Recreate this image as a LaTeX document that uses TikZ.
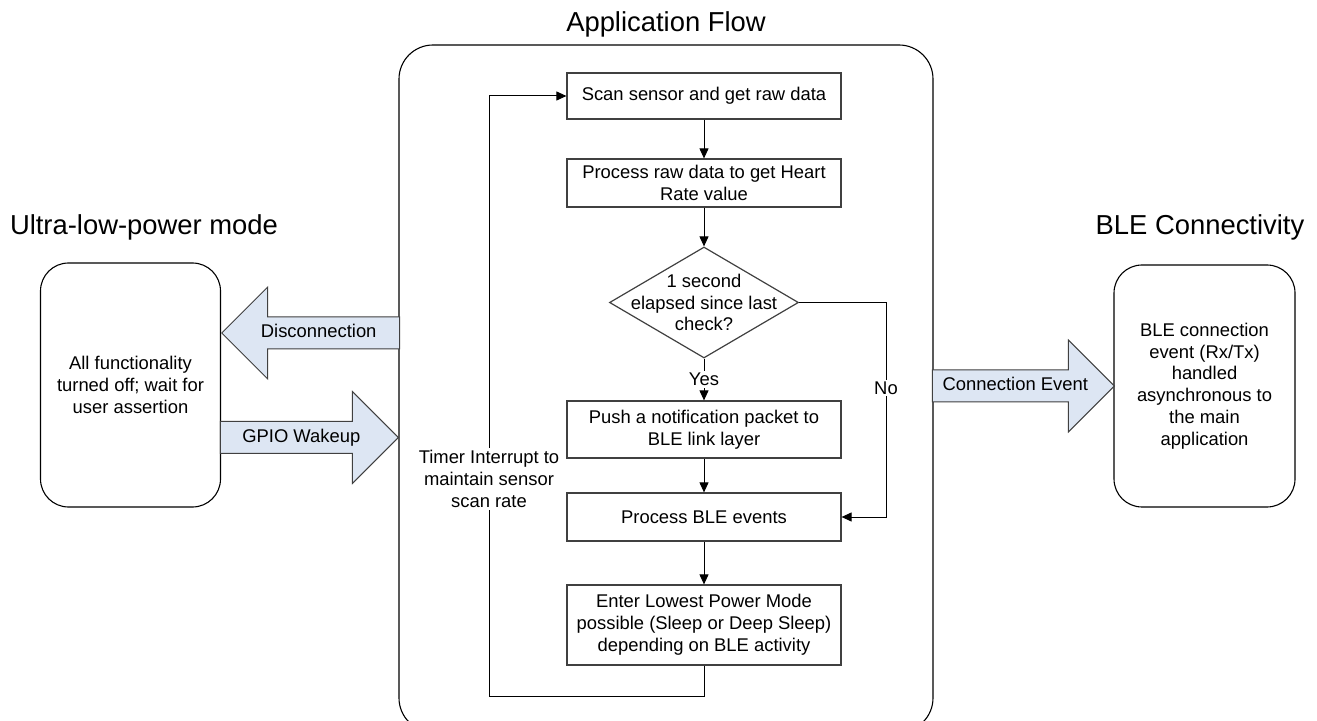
\documentclass[tikz,border=0pt]{standalone}
\usepackage{fontspec}
\setmainfont{Liberation Sans}
\usepackage{tikz}
\usetikzlibrary{shapes.geometric}
\usetikzlibrary{shapes.arrows}
\usetikzlibrary{arrows.meta}

\definecolor{boxgray}{RGB}{64,64,64}
\definecolor{arrowblue}{RGB}{221,230,243}

\tikzset{
  bodytext/.style={font=\fontsize{9.2}{10.9}\selectfont},
  titletext/.style={font=\fontsize{13.7}{16}\selectfont},
  panel/.style={draw=black, line width=0.55pt, rounded corners=17pt, fill=none},
  modebox/.style={draw=black, line width=0.55pt, rounded corners=14pt, align=center, bodytext},
  stepbox/.style={draw=boxgray, line width=0.6pt, minimum width=137pt, inner sep=0pt, align=center, bodytext},
  flow/.style={draw=black, line width=0.5pt, -{Triangle[length=5pt,width=4.5pt]}},
  blockarrow/.style={single arrow, draw=boxgray, line width=0.5pt, fill=arrowblue,
    single arrow head extend=15pt, text height=6.6pt, text depth=1.9pt,
    inner ysep=3.5pt, inner xsep=2pt, bodytext},
  tag/.style={fill=white, inner sep=1pt, align=center, bodytext}
}

\begin{document}
\begin{tikzpicture}[x=0.5pt,y=-0.5pt]
            \useasboundingbox (0,0) rectangle (1317,721);

            % titles
            \node[titletext] (tflow) at (666,24) {Application Flow};
            \node[titletext] (tlow) at (144,227) {Ultra-low-power mode};
            \node[titletext] (tble) at (1200,227) {BLE Connectivity};

            % the three panels
            \node[panel, minimum width=267pt, minimum height=343.5pt] (appflow) at (666,388.5) {};
            \node[modebox, minimum width=90pt, minimum height=122pt] (lowpower) at (130.5,385)
                {All functionality\\turned off; wait for\\user assertion};
            \node[modebox, minimum width=90.5pt, minimum height=121pt] (blebox) at (1204.5,386)
                {BLE connection\\event (Rx/Tx)\\handled\\asynchronous to\\the main\\application};

            % block arrows between panels
            \node[blockarrow, shape border rotate=180, minimum height=89pt, anchor=tip] (discon) at (221,333) {Disconnection};
            \node[blockarrow, minimum height=89pt, anchor=tip] (wakeup) at (399,437.5) {GPIO Wakeup};
            \node[blockarrow, minimum height=91pt, anchor=tip] (connev) at (1115,386) {Connection Event};

            % flow steps
            \node[stepbox, minimum height=23pt] (scan) at (704,96) {Scan sensor and get raw data};
            \node[stepbox, minimum height=24pt] (rawdata) at (704,183) {Process raw data to get Heart\\Rate value};
            \node[draw=boxgray, line width=0.6pt, diamond, inner sep=0pt, minimum width=94.5pt, minimum height=55.5pt] (check) at (704,302.5) {};
            \node[bodytext, align=center] (checktxt) at (704,302.5) {1 second\\elapsed since last\\check?};
            \node[stepbox, minimum height=28.5pt] (push) at (704,429.5) {Push a notification packet to\\BLE link layer};
            \node[stepbox, minimum height=24pt] (bleev) at (704,517) {Process BLE events};
            \node[stepbox, minimum height=40pt] (lpm) at (704,625) {Enter Lowest Power Mode\\possible (Sleep or Deep Sleep)\\depending on BLE activity};

            % connectors
            \draw[flow] (scan) -- (rawdata);
            \draw[flow] (rawdata) -- (check);
            \draw[flow] (check) -- (push) node[tag, pos=0.5] (yes) {Yes};
            \draw[flow] (push) -- (bleev);
            \draw[flow] (bleev) -- (lpm);

            \coordinate (nobend) at (886,302.5);
            \draw[flow] (check.east) -- (nobend) |- (bleev.east);
            \node[tag] (no) at (886,388) {No};

            \coordinate (loopbot) at (489,696);
            \draw[flow] (lpm.south) |- (loopbot) |- (scan.west);
            \node[tag] (timer) at (489,479) {Timer Interrupt to\\maintain sensor\\scan rate};
        \end{tikzpicture}
\end{document}
